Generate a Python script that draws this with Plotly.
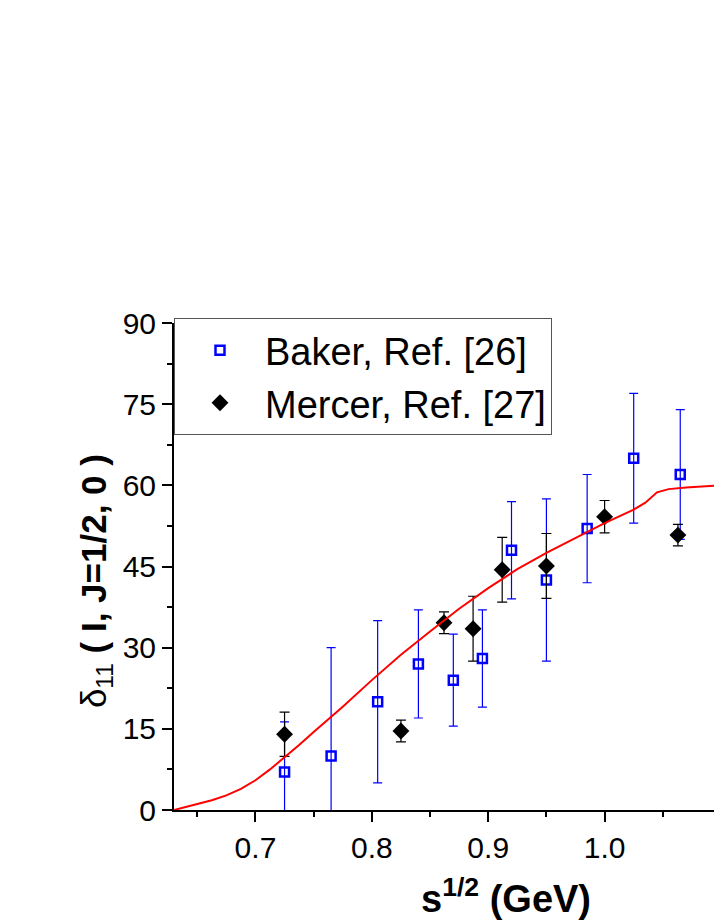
import plotly.graph_objects as go

# --- colours ---
BLUE = "#0000FF"
BLACK = "#000000"
RED = "#FF0000"
FONT = "Liberation Sans, Arial, sans-serif"

# --- data ---
baker_x = [0.725, 0.765, 0.805, 0.840, 0.870, 0.895, 0.920, 0.950, 0.985, 1.025, 1.065]
baker_y = [7.0, 10.0, 20.0, 27.0, 24.0, 28.0, 48.0, 42.5, 52.0, 65.0, 62.0]
baker_err = [9.3, 20.0, 15.0, 10.0, 8.5, 9.0, 9.0, 15.0, 10.0, 12.0, 12.0]

mercer_x = [0.725, 0.825, 0.862, 0.887, 0.912, 0.950, 1.000, 1.063]
mercer_y = [14.0, 14.6, 34.6, 33.5, 44.4, 45.1, 54.2, 50.8]
mercer_err = [4.1, 2.0, 2.0, 6.0, 6.0, 6.0, 3.0, 2.0]

curve_x = [0.63, 0.64, 0.65, 0.6625, 0.675, 0.6875, 0.70, 0.7125, 0.725, 0.7375, 0.75,
           0.775, 0.80, 0.825, 0.85, 0.875, 0.90, 0.925, 0.95, 0.975, 1.00,
           1.025, 1.035, 1.045, 1.055, 1.07, 1.10]
curve_y = [0.0, 0.6, 1.1, 1.8, 2.7, 3.9, 5.5, 7.5, 9.7, 12.0, 14.4,
           19.1, 24.0, 28.7, 33.0, 37.2, 41.0, 44.5, 47.5, 50.3, 53.0,
           55.5, 56.8, 58.7, 59.3, 59.6, 60.0]

fig = go.Figure()

fig.add_trace(go.Scatter(
    x=baker_x, y=baker_y, mode="markers", name="Baker, Ref. [26]",
    marker=dict(symbol="square-open", size=9, color=BLUE, line=dict(width=2.5, color=BLUE)),
    error_y=dict(type="data", array=baker_err, visible=True, color=BLUE, thickness=1.2, width=4.5),
))
fig.add_trace(go.Scatter(
    x=mercer_x, y=mercer_y, mode="markers", name="Mercer, Ref. [27]",
    marker=dict(symbol="diamond", size=13, color=BLACK),
    error_y=dict(type="data", array=mercer_err, visible=True, color=BLACK, thickness=1.2, width=5),
))
fig.add_trace(go.Scatter(
    x=curve_x, y=curve_y, mode="lines", showlegend=False,
    line=dict(color=RED, width=2),
))

axis_common = dict(
    showgrid=False, zeroline=False, showline=True, linecolor=BLACK, linewidth=2,
    ticks="outside", ticklen=10, tickwidth=2, tickcolor=BLACK, automargin=False,
    tickfont=dict(family=FONT, size=30, color=BLACK),
)

fig.update_layout(
    width=714, height=924,
    margin=dict(l=174, r=0, t=323, b=114),
    paper_bgcolor="white", plot_bgcolor="white",
    font=dict(family=FONT, color=BLACK),
    xaxis=dict(range=[0.63, 1.094], dtick=0.1, tick0=0.7, tickformat=".1f",
               minor=dict(dtick=0.05, tick0=0.65, ticks="outside", ticklen=5, tickwidth=2, tickcolor=BLACK),
               **axis_common),
    yaxis=dict(range=[0, 90], dtick=15, tick0=0,
               minor=dict(dtick=7.5, ticks="outside", ticklen=5, tickwidth=2, tickcolor=BLACK),
               **axis_common),
    legend=dict(x=0, y=1.01, xanchor="left", yanchor="top",
                bgcolor="white", bordercolor="#555555", borderwidth=1,
                font=dict(family=FONT, size=38, color=BLACK), itemwidth=80),
    annotations=[
        dict(text="<b>s<sup>1/2</sup> (GeV)</b>", xref="paper", yref="paper",
             x=(506 - 174) / 540, y=-0.177, xanchor="center", yanchor="middle",
             showarrow=False, font=dict(family=FONT, size=38, color=BLACK)),
        dict(text="δ<sub>11</sub> <b>( I, J=1/2, 0 )</b>", xref="paper", yref="paper",
             x=(96 - 174) / 540, y=0.47, xanchor="center", yanchor="middle", textangle=-90,
             showarrow=False, font=dict(family=FONT, size=35, color=BLACK)),
    ],
)

# the page body has an 8px default margin; drop it so the figure sits at 0,0
fig.write_html("out.html", config={"displayModeBar": False},
               post_script="document.body.style.margin='0';")
